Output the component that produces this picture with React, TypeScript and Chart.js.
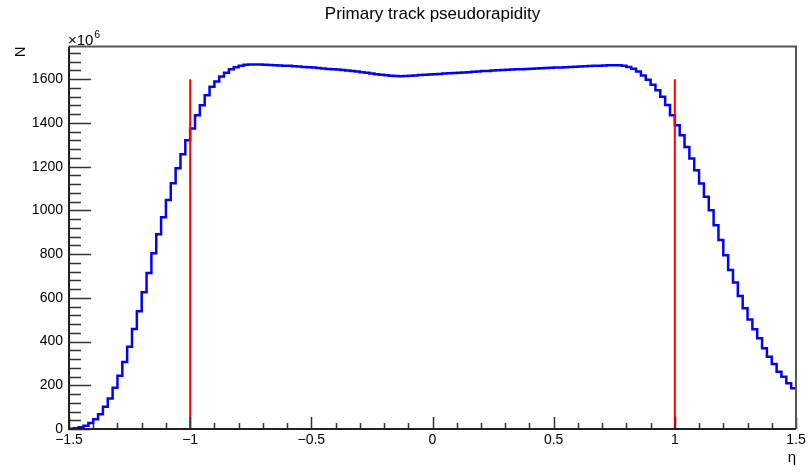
import { useEffect, useRef } from "react";
import { Chart, registerables } from "chart.js";

Chart.register(...registerables);

// ---- data (counts in units of 10^6, bins of 0.02 in eta) ----
const ETA_MIN = -1.5;
const ETA_MAX = 1.5;
const BIN_WIDTH = 0.02;

const countsLeftEdge = [
  1, 4, 8, 15, 27, 45, 68, 102, 140, 189, 244, 306, 376, 457, 539, 626, 714, 804, 891, 969,
  1047, 1124, 1193, 1257, 1321,
];
const countsLeftShoulder = [1374, 1435, 1481, 1526, 1565, 1590, 1612, 1630, 1645, 1655, 1662, 1666, 1667];
const countsPlateau = [
  1667, 1667, 1666, 1665, 1664, 1663, 1662, 1661, 1659, 1658,
  1656, 1655, 1653, 1651, 1649, 1647, 1646, 1644, 1642, 1640,
  1637, 1635, 1632, 1629, 1626, 1623, 1620, 1618, 1616, 1615,
  1614, 1615, 1616, 1617, 1619, 1620, 1621,
  1623, 1624, 1626, 1627, 1628, 1630, 1631, 1632, 1634, 1635,
  1637, 1638, 1640, 1641, 1642, 1643, 1644, 1645, 1646, 1647,
  1648, 1649, 1650, 1651, 1652, 1653, 1654, 1655, 1656, 1657,
  1658, 1659, 1660, 1661, 1662, 1663, 1664, 1664,
];
const countsRightShoulder = [1664, 1661, 1656, 1648, 1635, 1617, 1597, 1575, 1550, 1520, 1482, 1435];
const countsRightEdge = [
  1389, 1344, 1290, 1237, 1184, 1123, 1062, 1001, 932, 864, 795, 727, 670, 608, 552, 501,
  456, 415, 369, 330, 297, 262, 239, 209, 186,
];
const counts = [
  ...countsLeftEdge,
  ...countsLeftShoulder,
  ...countsPlateau,
  ...countsRightShoulder,
  ...countsRightEdge,
];

const cutEtas = [-1, 1];
const cutHeight = 1600;

const Y_MAX = 1750;
const X_MAJOR = 0.5;
const X_MINOR = 0.1;
const Y_MAJOR = 200;
const Y_MINOR = 40;

const TITLE = "Primary track pseudorapidity";
const X_TITLE = "η";
const Y_TITLE = "N";
const Y_EXP_BASE = "×10";
const Y_EXP = "6";

const FONT = "'Liberation Sans', Arial, Helvetica, sans-serif";

function fmt(v: number): string {
  const r = Math.round(v * 100) / 100;
  if (r === 0) return "0";
  return r < 0 ? "\u2212" + String(Math.abs(r)) : String(r);
}

export default function App() {
  const ref = useRef<HTMLCanvasElement | null>(null);

  useEffect(() => {
    const canvas = ref.current;
    if (!canvas) return;

    const histPoints = counts.map((v, i) => ({ x: ETA_MIN + i * BIN_WIDTH, y: v }));
    histPoints.push({ x: ETA_MAX, y: counts[counts.length - 1] });

    const cutDatasets = cutEtas.map((e) => ({
      data: [
        { x: e, y: 0 },
        { x: e, y: cutHeight },
      ],
      borderColor: "#ff0000",
      borderWidth: 2,
      pointRadius: 0,
      fill: false,
      order: 0,
    }));

    const framePlugin = {
      id: "rootFrame",
      afterDraw(chart: any) {
        const { ctx, chartArea, scales } = chart;
        const xs = scales.x;
        const ys = scales.y;
        const { left, right, top, bottom } = chartArea;
        ctx.save();
        // ticks
        ctx.strokeStyle = "#333";
        ctx.lineWidth = 1.5;
        ctx.beginPath();
        const nx = Math.round((ETA_MAX - ETA_MIN) / X_MINOR);
        for (let k = 0; k <= nx; k++) {
          const v = ETA_MIN + k * X_MINOR;
          const px = Math.round(xs.getPixelForValue(v)) + 0.5;
          const isMajor = Math.abs(v / X_MAJOR - Math.round(v / X_MAJOR)) < 1e-6;
          const len = isMajor ? 12 : 6;
          ctx.moveTo(px, bottom);
          ctx.lineTo(px, bottom - len);
        }
        const ny = Math.floor(Y_MAX / Y_MINOR);
        for (let k = 0; k <= ny; k++) {
          const v = k * Y_MINOR;
          const py = Math.round(ys.getPixelForValue(v)) + 0.5;
          const isMajor = v % Y_MAJOR === 0;
          const len = isMajor ? 22 : 12;
          ctx.moveTo(left, py);
          ctx.lineTo(left + len, py);
        }
        ctx.stroke();
        // frame
        ctx.lineWidth = 2;
        ctx.strokeStyle = "#555";
        ctx.beginPath();
        ctx.moveTo(left, top);
        ctx.lineTo(right, top);
        ctx.lineTo(right, bottom);
        ctx.stroke();
        ctx.strokeStyle = "#222";
        ctx.beginPath();
        ctx.moveTo(left, top);
        ctx.lineTo(left, bottom);
        ctx.lineTo(right, bottom);
        ctx.stroke();
        // exponent label
        ctx.fillStyle = "#000";
        ctx.textAlign = "left";
        ctx.textBaseline = "alphabetic";
        ctx.font = `15px ${FONT}`;
        ctx.fillText(Y_EXP_BASE, left - 1, top - 1);
        const w = ctx.measureText(Y_EXP_BASE).width;
        ctx.font = `10px ${FONT}`;
        ctx.fillText(Y_EXP, left - 1 + w + 1, top - 8);
        ctx.restore();
      },
    };

    const chart = new Chart(canvas, {
      type: "line",
      data: {
        datasets: [
          ...cutDatasets,
          {
            data: histPoints,
            borderColor: "#0000ff",
            borderWidth: 2.5,
            pointRadius: 0,
            stepped: "before",
            fill: false,
            order: 1,
          } as any,
        ],
      },
      options: {
        responsive: false,
        animation: false,
        parsing: true,
        layout: { padding: { left: 0, right: 15, top: 0, bottom: 0 } },
        plugins: {
          legend: { display: false },
          tooltip: { enabled: false },
          title: {
            display: true,
            text: TITLE,
            fullSize: false,
            color: "#000",
            font: { family: FONT, size: 17, weight: "normal" },
            padding: { top: 4, bottom: 22 },
          },
        },
        scales: {
          x: {
            type: "linear",
            min: ETA_MIN,
            max: ETA_MAX,
            grid: { display: false, drawTicks: false },
            border: { display: false },
            ticks: {
              stepSize: X_MAJOR,
              includeBounds: false,
              color: "#000",
              padding: 3,
              maxRotation: 0,
              autoSkip: false,
              font: { family: FONT, size: 14 },
              callback: (v: any) => fmt(Number(v)),
            },
            title: {
              display: true,
              text: X_TITLE,
              align: "end",
              color: "#000",
              font: { family: FONT, size: 15 },
              padding: { top: 0, bottom: 5 },
            },
            afterFit: (s: any) => {
              s.height = 43;
            },
          },
          y: {
            type: "linear",
            min: 0,
            max: Y_MAX,
            grid: { display: false, drawTicks: false },
            border: { display: false },
            ticks: {
              stepSize: Y_MAJOR,
              includeBounds: false,
              color: "#000",
              padding: 6,
              autoSkip: false,
              font: { family: FONT, size: 14 },
              callback: (v: any) => fmt(Number(v)),
            },
            title: {
              display: true,
              text: Y_TITLE,
              align: "end",
              color: "#000",
              font: { family: FONT, size: 15 },
              padding: { top: 12, bottom: 0 },
            },
            afterFit: (s: any) => {
              s.width = 69;
            },
          },
        },
      },
      plugins: [framePlugin],
    });

    return () => chart.destroy();
  }, []);

  return (
    <div style={{ position: "fixed", left: 0, top: 0, width: 811, height: 472, background: "#fff" }}>
      <canvas ref={ref} width={811} height={472} style={{ display: "block", width: 811, height: 472 }} />
    </div>
  );
}
